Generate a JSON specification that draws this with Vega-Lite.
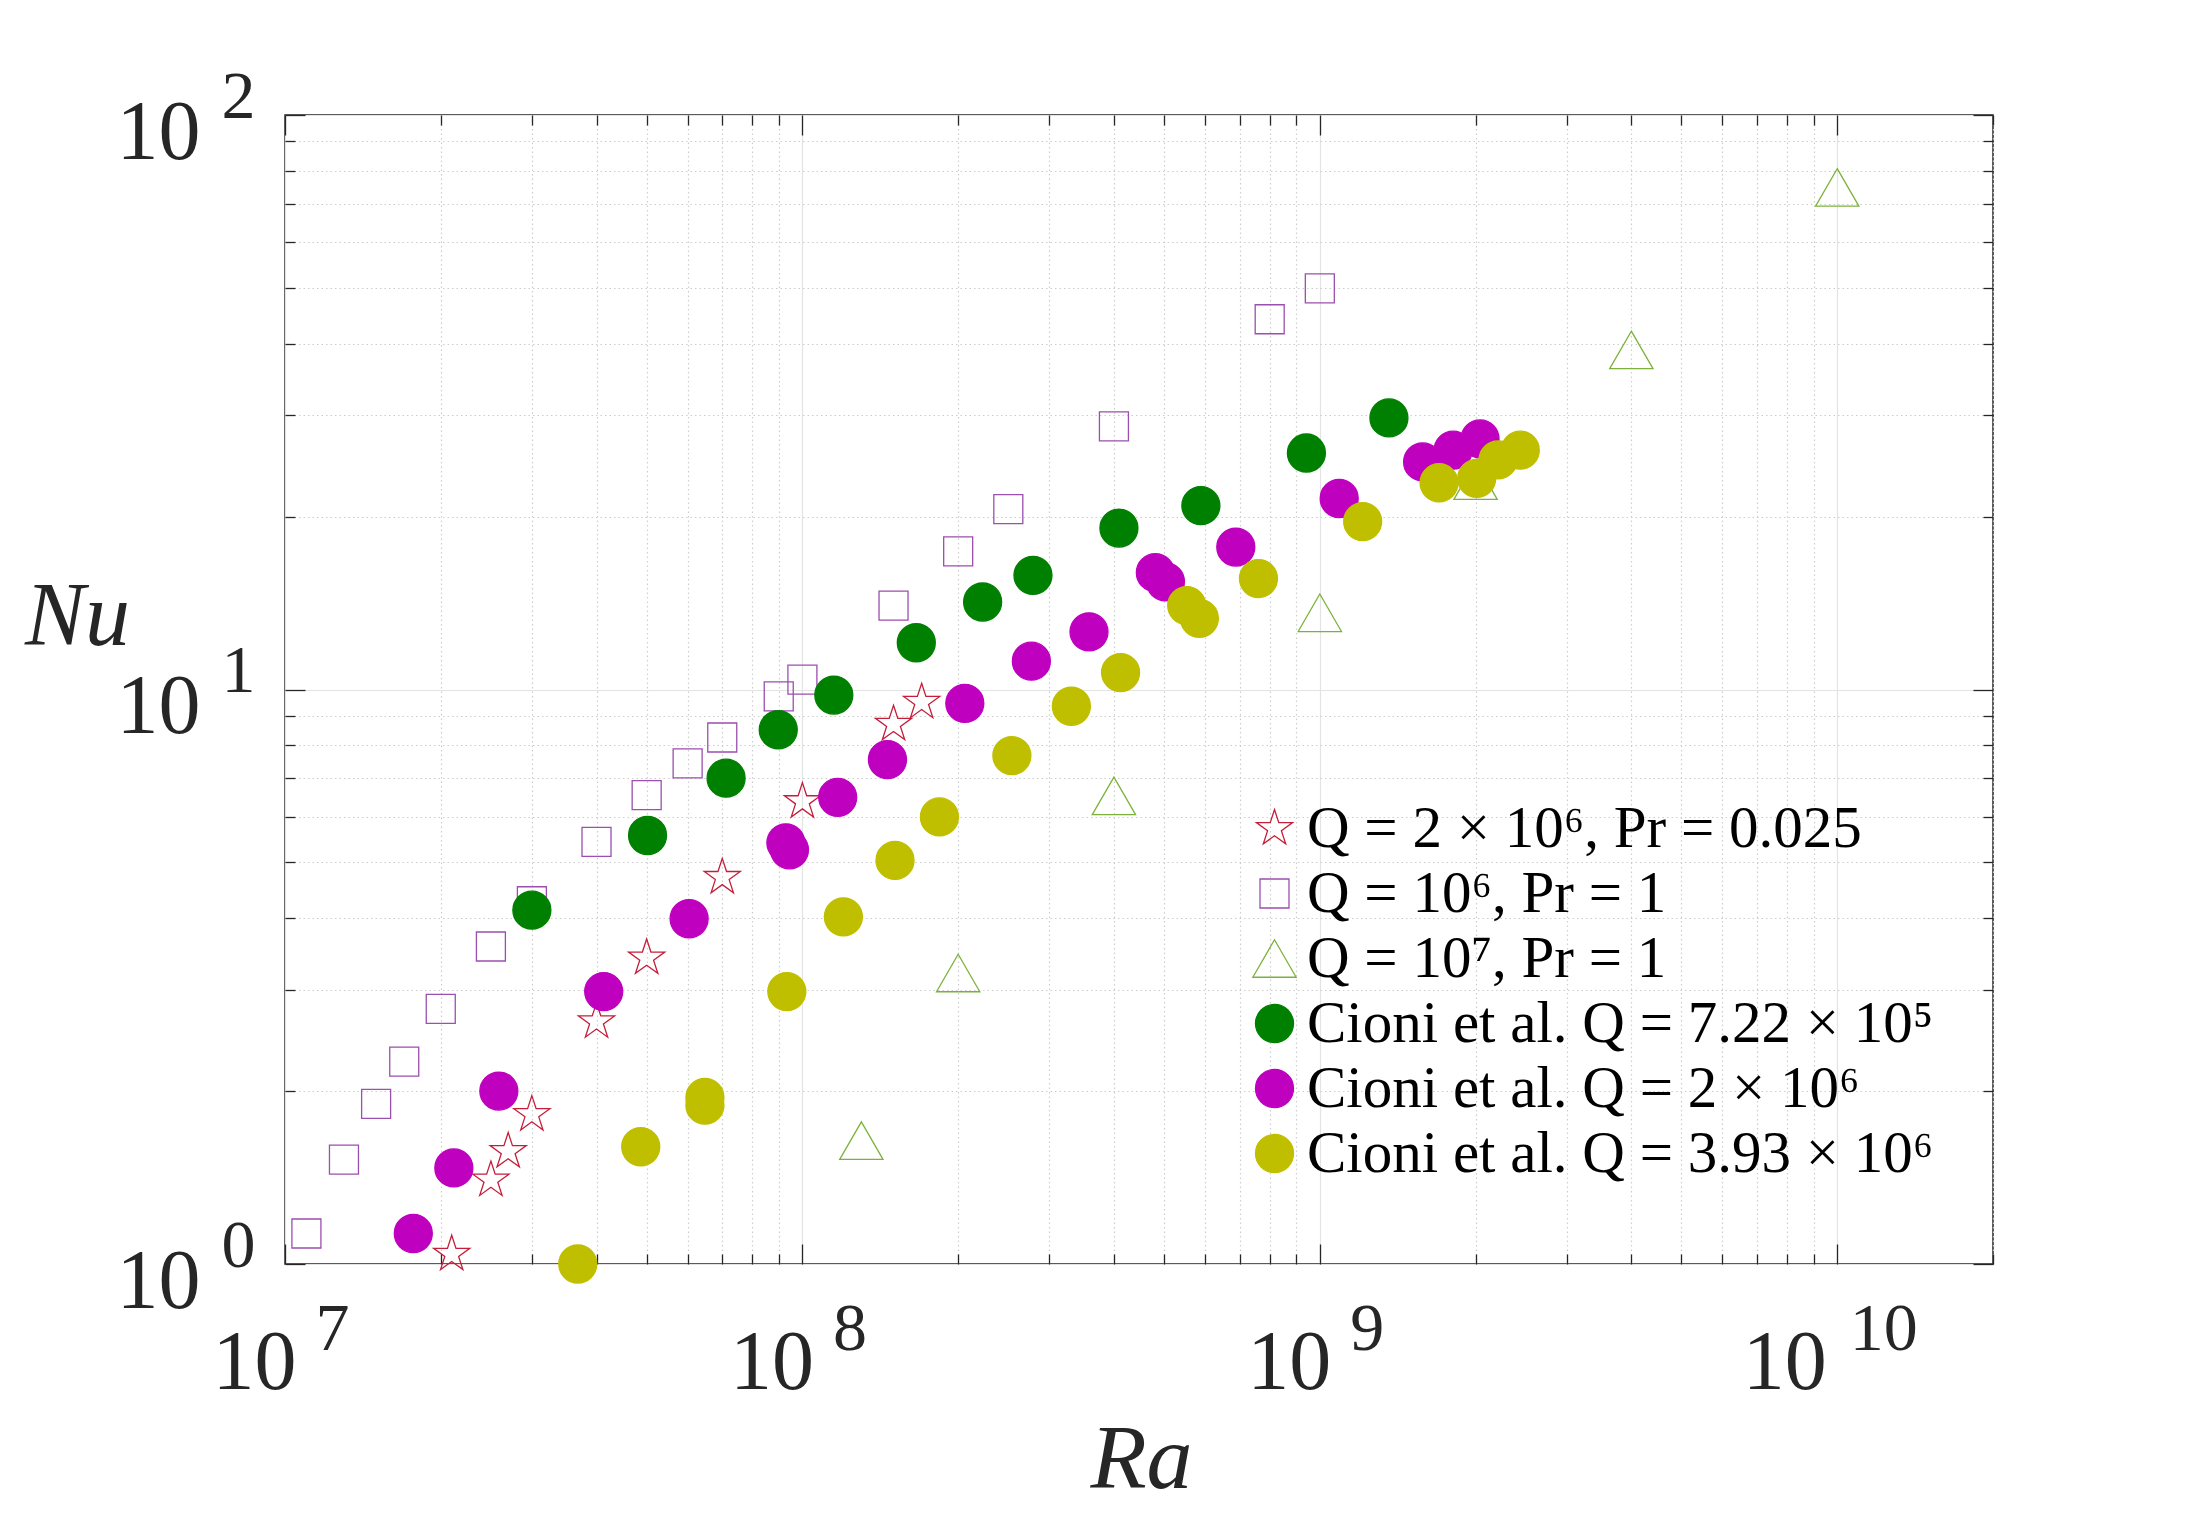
{
  "$schema": "https://vega.github.io/schema/vega-lite/v6.json",
  "width": 1708,
  "height": 1149,
  "autosize": {"type": "none"},
  "padding": {"left": 285, "top": 115, "right": 212, "bottom": 257},
  "background": "white",
  "data": {
    "values": [
      {"series": "Q = 2 × 10⁶,  Pr = 0.025", "Ra": 2.1e7, "Nu": 1.04},
      {"series": "Q = 2 × 10⁶,  Pr = 0.025", "Ra": 2.5e7, "Nu": 1.40},
      {"series": "Q = 2 × 10⁶,  Pr = 0.025", "Ra": 2.7e7, "Nu": 1.57},
      {"series": "Q = 2 × 10⁶,  Pr = 0.025", "Ra": 3.0e7, "Nu": 1.82},
      {"series": "Q = 2 × 10⁶,  Pr = 0.025", "Ra": 4.0e7, "Nu": 2.64},
      {"series": "Q = 2 × 10⁶,  Pr = 0.025", "Ra": 5.0e7, "Nu": 3.41},
      {"series": "Q = 2 × 10⁶,  Pr = 0.025", "Ra": 7.0e7, "Nu": 4.71},
      {"series": "Q = 2 × 10⁶,  Pr = 0.025", "Ra": 1.0e8, "Nu": 6.38},
      {"series": "Q = 2 × 10⁶,  Pr = 0.025", "Ra": 1.5e8, "Nu": 8.70},
      {"series": "Q = 2 × 10⁶,  Pr = 0.025", "Ra": 1.7e8, "Nu": 9.50},

      {"series": "Q = 10⁶,  Pr = 1", "Ra": 1.1e7, "Nu": 1.13},
      {"series": "Q = 10⁶,  Pr = 1", "Ra": 1.3e7, "Nu": 1.52},
      {"series": "Q = 10⁶,  Pr = 1", "Ra": 1.5e7, "Nu": 1.90},
      {"series": "Q = 10⁶,  Pr = 1", "Ra": 1.7e7, "Nu": 2.25},
      {"series": "Q = 10⁶,  Pr = 1", "Ra": 2.0e7, "Nu": 2.78},
      {"series": "Q = 10⁶,  Pr = 1", "Ra": 2.5e7, "Nu": 3.57},
      {"series": "Q = 10⁶,  Pr = 1", "Ra": 3.0e7, "Nu": 4.28},
      {"series": "Q = 10⁶,  Pr = 1", "Ra": 4.0e7, "Nu": 5.43},
      {"series": "Q = 10⁶,  Pr = 1", "Ra": 5.0e7, "Nu": 6.55},
      {"series": "Q = 10⁶,  Pr = 1", "Ra": 6.0e7, "Nu": 7.44},
      {"series": "Q = 10⁶,  Pr = 1", "Ra": 7.0e7, "Nu": 8.25},
      {"series": "Q = 10⁶,  Pr = 1", "Ra": 9.0e7, "Nu": 9.73},
      {"series": "Q = 10⁶,  Pr = 1", "Ra": 1.0e8, "Nu": 10.4},
      {"series": "Q = 10⁶,  Pr = 1", "Ra": 1.5e8, "Nu": 14.0},
      {"series": "Q = 10⁶,  Pr = 1", "Ra": 2.0e8, "Nu": 17.4},
      {"series": "Q = 10⁶,  Pr = 1", "Ra": 2.5e8, "Nu": 20.6},
      {"series": "Q = 10⁶,  Pr = 1", "Ra": 4.0e8, "Nu": 28.7},
      {"series": "Q = 10⁶,  Pr = 1", "Ra": 8.0e8, "Nu": 44.1},
      {"series": "Q = 10⁶,  Pr = 1", "Ra": 1.0e9, "Nu": 49.9},

      {"series": "Q = 10⁷,  Pr = 1", "Ra": 1.3e8, "Nu": 1.64},
      {"series": "Q = 10⁷,  Pr = 1", "Ra": 2.0e8, "Nu": 3.21},
      {"series": "Q = 10⁷,  Pr = 1", "Ra": 4.0e8, "Nu": 6.53},
      {"series": "Q = 10⁷,  Pr = 1", "Ra": 1.0e9, "Nu": 13.6},
      {"series": "Q = 10⁷,  Pr = 1", "Ra": 2.0e9, "Nu": 23.1},
      {"series": "Q = 10⁷,  Pr = 1", "Ra": 4.0e9, "Nu": 39.0},
      {"series": "Q = 10⁷,  Pr = 1", "Ra": 1.0e10, "Nu": 74.8},

      {"series": "Cioni et al.  Q = 7.22 × 10⁵", "Ra": 3.0e7, "Nu": 4.13},
      {"series": "Cioni et al.  Q = 7.22 × 10⁵", "Ra": 5.02e7, "Nu": 5.57},
      {"series": "Cioni et al.  Q = 7.22 × 10⁵", "Ra": 7.12e7, "Nu": 7.01},
      {"series": "Cioni et al.  Q = 7.22 × 10⁵", "Ra": 8.98e7, "Nu": 8.51},
      {"series": "Cioni et al.  Q = 7.22 × 10⁵", "Ra": 1.15e8, "Nu": 9.78},
      {"series": "Cioni et al.  Q = 7.22 × 10⁵", "Ra": 1.66e8, "Nu": 12.06},
      {"series": "Cioni et al.  Q = 7.22 × 10⁵", "Ra": 2.23e8, "Nu": 14.2},
      {"series": "Cioni et al.  Q = 7.22 × 10⁵", "Ra": 2.79e8, "Nu": 15.8},
      {"series": "Cioni et al.  Q = 7.22 × 10⁵", "Ra": 4.09e8, "Nu": 19.1},
      {"series": "Cioni et al.  Q = 7.22 × 10⁵", "Ra": 5.89e8, "Nu": 20.9},
      {"series": "Cioni et al.  Q = 7.22 × 10⁵", "Ra": 9.42e8, "Nu": 25.8},
      {"series": "Cioni et al.  Q = 7.22 × 10⁵", "Ra": 1.36e9, "Nu": 29.7},

      {"series": "Cioni et al.  Q = 2 × 10⁶", "Ra": 1.77e7, "Nu": 1.13},
      {"series": "Cioni et al.  Q = 2 × 10⁶", "Ra": 2.12e7, "Nu": 1.47},
      {"series": "Cioni et al.  Q = 2 × 10⁶", "Ra": 2.59e7, "Nu": 2.0},
      {"series": "Cioni et al.  Q = 2 × 10⁶", "Ra": 4.13e7, "Nu": 2.98},
      {"series": "Cioni et al.  Q = 2 × 10⁶", "Ra": 6.04e7, "Nu": 3.99},
      {"series": "Cioni et al.  Q = 2 × 10⁶", "Ra": 9.29e7, "Nu": 5.41},
      {"series": "Cioni et al.  Q = 2 × 10⁶", "Ra": 9.44e7, "Nu": 5.26},
      {"series": "Cioni et al.  Q = 2 × 10⁶", "Ra": 1.17e8, "Nu": 6.49},
      {"series": "Cioni et al.  Q = 2 × 10⁶", "Ra": 1.46e8, "Nu": 7.55},
      {"series": "Cioni et al.  Q = 2 × 10⁶", "Ra": 2.06e8, "Nu": 9.46},
      {"series": "Cioni et al.  Q = 2 × 10⁶", "Ra": 2.77e8, "Nu": 11.2},
      {"series": "Cioni et al.  Q = 2 × 10⁶", "Ra": 3.58e8, "Nu": 12.6},
      {"series": "Cioni et al.  Q = 2 × 10⁶", "Ra": 4.81e8, "Nu": 15.97},
      {"series": "Cioni et al.  Q = 2 × 10⁶", "Ra": 5.03e8, "Nu": 15.4},
      {"series": "Cioni et al.  Q = 2 × 10⁶", "Ra": 6.88e8, "Nu": 17.7},
      {"series": "Cioni et al.  Q = 2 × 10⁶", "Ra": 1.09e9, "Nu": 21.5},
      {"series": "Cioni et al.  Q = 2 × 10⁶", "Ra": 1.58e9, "Nu": 24.9},
      {"series": "Cioni et al.  Q = 2 × 10⁶", "Ra": 1.81e9, "Nu": 26.1},
      {"series": "Cioni et al.  Q = 2 × 10⁶", "Ra": 2.04e9, "Nu": 27.3},

      {"series": "Cioni et al.  Q = 3.93 × 10⁶", "Ra": 3.68e7, "Nu": 1.0},
      {"series": "Cioni et al.  Q = 3.93 × 10⁶", "Ra": 4.87e7, "Nu": 1.60},
      {"series": "Cioni et al.  Q = 3.93 × 10⁶", "Ra": 6.48e7, "Nu": 1.95},
      {"series": "Cioni et al.  Q = 3.93 × 10⁶", "Ra": 6.48e7, "Nu": 1.89},
      {"series": "Cioni et al.  Q = 3.93 × 10⁶", "Ra": 9.33e7, "Nu": 2.98},
      {"series": "Cioni et al.  Q = 3.93 × 10⁶", "Ra": 1.20e8, "Nu": 4.02},
      {"series": "Cioni et al.  Q = 3.93 × 10⁶", "Ra": 1.51e8, "Nu": 5.04},
      {"series": "Cioni et al.  Q = 3.93 × 10⁶", "Ra": 1.84e8, "Nu": 6.0},
      {"series": "Cioni et al.  Q = 3.93 × 10⁶", "Ra": 2.54e8, "Nu": 7.67},
      {"series": "Cioni et al.  Q = 3.93 × 10⁶", "Ra": 3.31e8, "Nu": 9.35},
      {"series": "Cioni et al.  Q = 3.93 × 10⁶", "Ra": 4.12e8, "Nu": 10.7},
      {"series": "Cioni et al.  Q = 3.93 × 10⁶", "Ra": 5.53e8, "Nu": 14.0},
      {"series": "Cioni et al.  Q = 3.93 × 10⁶", "Ra": 5.85e8, "Nu": 13.3},
      {"series": "Cioni et al.  Q = 3.93 × 10⁶", "Ra": 7.61e8, "Nu": 15.6},
      {"series": "Cioni et al.  Q = 3.93 × 10⁶", "Ra": 1.21e9, "Nu": 19.6},
      {"series": "Cioni et al.  Q = 3.93 × 10⁶", "Ra": 1.70e9, "Nu": 22.9},
      {"series": "Cioni et al.  Q = 3.93 × 10⁶", "Ra": 2.01e9, "Nu": 23.3},
      {"series": "Cioni et al.  Q = 3.93 × 10⁶", "Ra": 2.21e9, "Nu": 25.1},
      {"series": "Cioni et al.  Q = 3.93 × 10⁶", "Ra": 2.44e9, "Nu": 26.1}
    ]
  },
  "layer": [
    {
      "description": "grid lines and inward ticks on the bottom and left edges",
      "mark": {"type": "point", "opacity": 0},
      "encoding": {
        "x": {
          "field": "Ra", "type": "quantitative",
          "scale": {"type": "log", "domain": [1e7, 2e10]},
          "axis": {
            "orient": "bottom", "title": null, "labels": false, "grid": true,
            "values": [1e7, 2e7, 3e7, 4e7, 5e7, 6e7, 7e7, 8e7, 9e7, 1e8, 2e8, 3e8, 4e8, 5e8, 6e8, 7e8, 8e8, 9e8, 1e9, 2e9, 3e9, 4e9, 5e9, 6e9, 7e9, 8e9, 9e9, 1e10, 2e10],
            "gridColor": {"condition": {"test": "abs(log(datum.value)/LN10 - round(log(datum.value)/LN10)) < 0.001", "value": "#E3E3E3"}, "value": "#CDCDCD"},
            "gridDash": {"condition": {"test": "abs(log(datum.value)/LN10 - round(log(datum.value)/LN10)) < 0.001", "value": []}, "value": [1.5, 3]},
            "gridWidth": 1.2,
            "ticks": true, "tickColor": "#262626", "tickWidth": 1.3,
            "tickSize": {"condition": {"test": "abs(log(datum.value)/LN10 - round(log(datum.value)/LN10)) < 0.001", "value": -20}, "value": -10}
          }
        },
        "y": {
          "field": "Nu", "type": "quantitative",
          "scale": {"type": "log", "domain": [1, 100]},
          "axis": {
            "orient": "left", "title": null, "labels": false, "grid": true,
            "values": [1, 2, 3, 4, 5, 6, 7, 8, 9, 10, 20, 30, 40, 50, 60, 70, 80, 90, 100],
            "gridColor": {"condition": {"test": "abs(log(datum.value)/LN10 - round(log(datum.value)/LN10)) < 0.001", "value": "#E3E3E3"}, "value": "#CDCDCD"},
            "gridDash": {"condition": {"test": "abs(log(datum.value)/LN10 - round(log(datum.value)/LN10)) < 0.001", "value": []}, "value": [1.5, 3]},
            "gridWidth": 1.2,
            "ticks": true, "tickColor": "#262626", "tickWidth": 1.3,
            "tickSize": {"condition": {"test": "abs(log(datum.value)/LN10 - round(log(datum.value)/LN10)) < 0.001", "value": -20}, "value": -10}
          }
        }
      }
    },
    {
      "description": "inward ticks on the top and right edges",
      "mark": {"type": "point", "opacity": 0},
      "encoding": {
        "x": {
          "field": "Ra", "type": "quantitative",
          "scale": {"type": "log", "domain": [1e7, 2e10]},
          "axis": {
            "orient": "top", "title": null, "labels": false, "grid": false,
            "values": [1e7, 2e7, 3e7, 4e7, 5e7, 6e7, 7e7, 8e7, 9e7, 1e8, 2e8, 3e8, 4e8, 5e8, 6e8, 7e8, 8e8, 9e8, 1e9, 2e9, 3e9, 4e9, 5e9, 6e9, 7e9, 8e9, 9e9, 1e10, 2e10],
            "ticks": true, "tickColor": "#262626", "tickWidth": 1.3,
            "tickSize": {"condition": {"test": "abs(log(datum.value)/LN10 - round(log(datum.value)/LN10)) < 0.001", "value": -20}, "value": -10}
          }
        },
        "y": {
          "field": "Nu", "type": "quantitative",
          "scale": {"type": "log", "domain": [1, 100]},
          "axis": {
            "orient": "right", "title": null, "labels": false, "grid": false,
            "values": [1, 2, 3, 4, 5, 6, 7, 8, 9, 10, 20, 30, 40, 50, 60, 70, 80, 90, 100],
            "ticks": true, "tickColor": "#262626", "tickWidth": 1.3,
            "tickSize": {"condition": {"test": "abs(log(datum.value)/LN10 - round(log(datum.value)/LN10)) < 0.001", "value": -20}, "value": -10}
          }
        }
      }
    },
    {
      "description": "tick-label exponents",
      "mark": {"type": "point", "opacity": 0},
      "encoding": {
        "x": {
          "field": "Ra", "type": "quantitative",
          "scale": {"type": "log", "domain": [1e7, 2e10]},
          "axis": {
            "orient": "bottom", "title": null, "grid": false, "ticks": false,
            "values": [1e7, 1e8, 1e9, 1e10],
            "labelExpr": "'' + round(log(datum.value)/LN10)",
            "labelFontSize": 68, "labelAlign": "center", "labelBaseline": "alphabetic",
            "labelPadding": 85,
            "labelOffset": {"condition": {"test": "datum.value > 5e9", "value": 46}, "value": 47}
          }
        },
        "y": {
          "field": "Nu", "type": "quantitative",
          "scale": {"type": "log", "domain": [1, 100]},
          "axis": {
            "orient": "left", "title": null, "grid": false, "ticks": false,
            "values": [1, 10, 100],
            "labelExpr": "'' + round(log(datum.value)/LN10)",
            "labelFontSize": 68, "labelAlign": "center", "labelBaseline": "alphabetic",
            "labelPadding": 47, "labelOffset": 2
          }
        }
      }
    },
    {
      "description": "data points, tick-label bases, axis titles and legend",
      "mark": {"type": "point", "size": 1444, "strokeWidth": 1.3, "opacity": 1},
      "encoding": {
        "x": {
          "field": "Ra", "type": "quantitative",
          "scale": {"type": "log", "domain": [1e7, 2e10]},
          "axis": {
            "orient": "bottom", "grid": false, "ticks": false,
            "values": [1e7, 1e8, 1e9, 1e10],
            "labelExpr": "'10'",
            "labelFontSize": 84, "labelAlign": "center", "labelBaseline": "alphabetic",
            "labelPadding": 124,
            "labelOffset": {"condition": {"test": "datum.value > 5e9", "value": -53}, "value": -31},
            "title": "Ra", "titleFont": "Liberation Serif", "titleFontStyle": "italic", "titleFontWeight": "normal",
            "titleFontSize": 92, "titleAlign": "center", "titleBaseline": "alphabetic",
            "titleX": 856, "titleY": 223, "titleAngle": 0
          }
        },
        "y": {
          "field": "Nu", "type": "quantitative",
          "scale": {"type": "log", "domain": [1, 100]},
          "axis": {
            "orient": "left", "grid": false, "ticks": false,
            "values": [1, 10, 100],
            "labelExpr": "'10'",
            "labelFontSize": 84, "labelAlign": "right", "labelBaseline": "alphabetic",
            "labelPadding": 85, "labelOffset": 43,
            "title": "Nu", "titleFont": "Liberation Serif", "titleFontStyle": "italic", "titleFontWeight": "normal",
            "titleFontSize": 90, "titleAlign": "center", "titleBaseline": "alphabetic",
            "titleX": -208, "titleY": 529, "titleAngle": 0
          }
        },
        "shape": {
          "field": "series", "type": "nominal",
          "scale": {
            "domain": ["Q = 2 × 10⁶,  Pr = 0.025", "Q = 10⁶,  Pr = 1", "Q = 10⁷,  Pr = 1", "Cioni et al.  Q = 7.22 × 10⁵", "Cioni et al.  Q = 2 × 10⁶", "Cioni et al.  Q = 3.93 × 10⁶"],
            "range": [
              "M0,-1L0.2245,-0.309L0.9511,-0.309L0.3633,0.118L0.5878,0.809L0,0.382L-0.5878,0.809L-0.3633,0.118L-0.9511,-0.309L-0.2245,-0.309Z",
              "M-0.763,-0.763L0.763,-0.763L0.763,0.763L-0.763,0.763Z",
              "M0,-0.987L1.14,0.987L-1.14,0.987Z",
              "circle", "circle", "circle"
            ]
          },
          "legend": {"title": null, "orient": "none", "legendX": 960, "legendY": 684}
        },
        "fill": {
          "field": "series", "type": "nominal",
          "scale": {
            "domain": ["Q = 2 × 10⁶,  Pr = 0.025", "Q = 10⁶,  Pr = 1", "Q = 10⁷,  Pr = 1", "Cioni et al.  Q = 7.22 × 10⁵", "Cioni et al.  Q = 2 × 10⁶", "Cioni et al.  Q = 3.93 × 10⁶"],
            "range": ["transparent", "transparent", "transparent", "#008000", "#BF00BF", "#BFBF00"]
          },
          "legend": {"title": null, "orient": "none", "legendX": 960, "legendY": 684}
        },
        "stroke": {
          "field": "series", "type": "nominal",
          "scale": {
            "domain": ["Q = 2 × 10⁶,  Pr = 0.025", "Q = 10⁶,  Pr = 1", "Q = 10⁷,  Pr = 1", "Cioni et al.  Q = 7.22 × 10⁵", "Cioni et al.  Q = 2 × 10⁶", "Cioni et al.  Q = 3.93 × 10⁶"],
            "range": ["#C41E3A", "#9B4FAE", "#7DB23A", "#008000", "#BF00BF", "#BFBF00"]
          },
          "legend": {"title": null, "orient": "none", "legendX": 960, "legendY": 684}
        }
      }
    }
  ],
  "resolve": {"axis": {"x": "independent", "y": "independent"}},
  "config": {
    "view": {"stroke": "#262626", "strokeWidth": 1.5},
    "font": "Liberation Serif",
    "axis": {"domain": false, "labelColor": "#262626", "titleColor": "#262626", "labelOverlap": false, "labelFlush": false},
    "legend": {
      "symbolSize": 1444, "symbolStrokeWidth": 1.3, "labelFontSize": 59, "labelFont": "Liberation Serif",
      "labelColor": "#000000", "labelLimit": 1000, "rowPadding": 5, "labelOffset": 3, "padding": 0,
      "symbolOffset": 0, "strokeColor": null, "fillColor": null
    }
  }
}
